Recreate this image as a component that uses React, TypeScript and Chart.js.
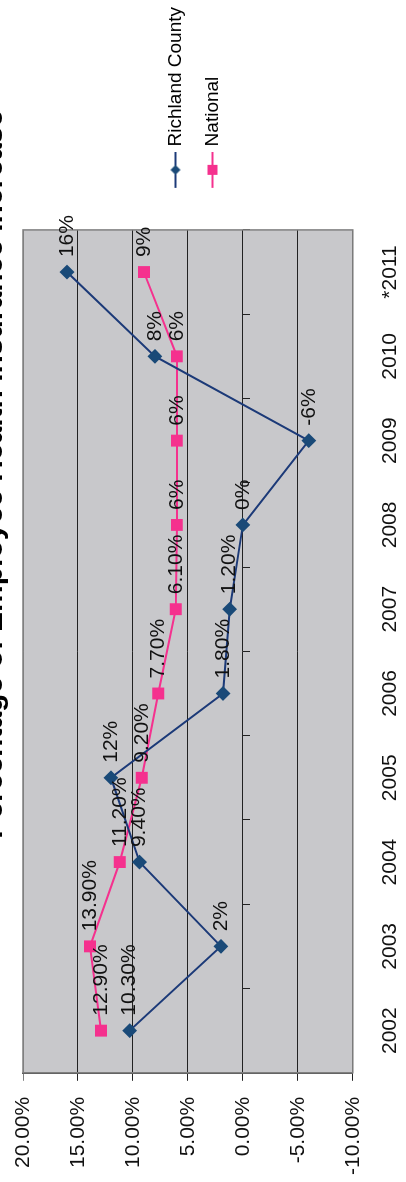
import { useEffect, useRef } from 'react';
import { Chart, registerables } from 'chart.js';

Chart.register(...registerables);

const TITLE = 'Percentage of Employee Health Insurance Increase';
const YEARS = ['2002', '2003', '2004', '2005', '2006', '2007', '2008', '2009', '2010', '*2011'];
const SERIES_NAMES = ['Richland County', 'National'];
const RICHLAND = [10.3, 2, 9.4, 12, 1.8, 1.2, 0, -6, 8, 16];
const NATIONAL = [12.9, 13.9, 11.2, 9.2, 7.7, 6.1, 6, 6, 6, 9];
const RICHLAND_LABELS = ['10.30%', '2%', '9.40%', '12%', '1.80%', '1.20%', '0%', '-6%', '8%', '16%'];
const NATIONAL_LABELS = ['12.90%', '13.90%', '11.20%', '9.20%', '7.70%', '6.10%', '6%', '6%', '6%', '9%'];
const Y_MIN = -10;
const Y_MAX = 20;
const Y_STEP = 5;

const CW = 1200; // landscape width (page height + overflow)
const CH = 406; // landscape height (page width)
const PAGE_H = 1182;
const FONT = '"Liberation Sans", Arial, sans-serif';
const NAVY = '#1c3a78';
const NAVY_PT = '#1a4a78';
const PINK = '#f5318e';

function makeIcon(color: string, ptColor: string, kind: 'diamond' | 'square') {
  const c = document.createElement('canvas');
  c.width = 64;
  c.height = 16;
  const g = c.getContext('2d')!;
  g.strokeStyle = color;
  g.lineWidth = 2;
  g.beginPath();
  g.moveTo(28, 8);
  g.lineTo(64, 8);
  g.stroke();
  g.fillStyle = ptColor;
  g.beginPath();
  if (kind === 'diamond') {
    g.moveTo(46, 3);
    g.lineTo(51, 8);
    g.lineTo(46, 13);
    g.lineTo(41, 8);
    g.closePath();
  } else {
    g.rect(41, 3, 10, 10);
  }
  g.fill();
  return c;
}

export default function App() {
  const ref = useRef<HTMLCanvasElement>(null);
  useEffect(() => {
    document.documentElement.style.overflow = 'hidden';
    document.body.style.overflow = 'hidden';
    const icons = [makeIcon(NAVY, NAVY_PT, 'diamond'), makeIcon(PINK, PINK, 'square')];
    const allLabels = [RICHLAND_LABELS, NATIONAL_LABELS];

    const plotBg = {
      id: 'plotBg',
      beforeDraw(chart: any) {
        const { ctx, chartArea: a } = chart;
        ctx.save();
        ctx.fillStyle = '#c8c8cb';
        ctx.fillRect(a.left, a.top, a.right - a.left, a.bottom - a.top);
        ctx.restore();
      },
      beforeDatasetsDraw(chart: any) {
        const { ctx, chartArea: a } = chart;
        ctx.save();
        ctx.strokeStyle = '#808080';
        ctx.lineWidth = 1.5;
        ctx.strokeRect(a.left, a.top, a.right - a.left, a.bottom - a.top);
        ctx.restore();
      },
    };

    const dataLabels = {
      id: 'dataLabels',
      afterDatasetsDraw(chart: any) {
        const { ctx } = chart;
        ctx.save();
        ctx.font = `21px ${FONT}`;
        ctx.fillStyle = '#111';
        ctx.textAlign = 'left';
        ctx.textBaseline = 'middle';
        chart.data.datasets.forEach((_d: any, i: number) => {
          const meta = chart.getDatasetMeta(i);
          meta.data.forEach((el: any, j: number) => {
            ctx.fillText(allLabels[i][j], el.x + 15, el.y);
          });
        });
        ctx.restore();
      },
    };

    const chart = new Chart(ref.current!, {
      type: 'line',
      data: {
        labels: YEARS,
        datasets: [
          {
            label: SERIES_NAMES[0],
            data: RICHLAND,
            borderColor: NAVY,
            backgroundColor: NAVY_PT,
            borderWidth: 2,
            pointStyle: 'rectRot',
            pointRadius: 6,
            pointBackgroundColor: NAVY_PT,
            pointBorderColor: NAVY_PT,
            tension: 0,
            xAxisID: 'x',
          },
          {
            label: SERIES_NAMES[1],
            data: NATIONAL,
            borderColor: PINK,
            backgroundColor: PINK,
            borderWidth: 2,
            pointStyle: 'rect',
            pointRadius: 7,
            pointBackgroundColor: PINK,
            pointBorderColor: PINK,
            tension: 0,
            xAxisID: 'x',
          },
        ],
      },
      options: {
        responsive: false,
        animation: false,
        devicePixelRatio: 1,
        layout: { padding: { left: -9, top: 23, right: 15, bottom: -22 } },
        plugins: {
          title: { display: false },
          tooltip: { enabled: false },
          legend: {
            position: 'right',
            align: 'start',
            title: { display: true, text: '', font: { size: 10 }, padding: { top: 113, bottom: 0 } },
            labels: {
              usePointStyle: true,
              pointStyleWidth: 56,
              padding: 18,
              color: '#000',
              font: { size: 19, family: FONT },
              generateLabels(ch: any) {
                const items = Chart.defaults.plugins.legend.labels.generateLabels(ch);
                items.forEach((it: any, i: number) => {
                  it.pointStyle = icons[i];
                });
                return items;
              },
            },
          },
        },
        scales: {
          x: {
            type: 'category',
            position: 'bottom',
            offset: true,
            grid: { display: false, drawTicks: false },
            border: { display: false },
            ticks: { color: '#111', padding: 25, font: { size: 21, family: FONT }, maxRotation: 0, autoSkip: false },
          },
          x0: {
            type: 'category',
            axis: 'x',
            position: { y: 0 },
            offset: true,
            grid: { display: true, drawOnChartArea: false, drawTicks: true, tickLength: 7, offset: true, color: '#222' },
            border: { display: false },
            ticks: { display: false },
          },
          y: {
            min: Y_MIN,
            max: Y_MAX,
            grid: {
              color: (c: any) => (c.tick && c.tick.value === Y_MAX ? '#808080' : '#222'),
              drawTicks: true,
              tickLength: 8,
            },
            border: { display: true, color: '#444', width: 1.5 },
            ticks: {
              stepSize: Y_STEP,
              color: '#111',
              padding: 16,
              font: { size: 21, family: FONT, lineHeight: 0.6 },
              callback: (v: any) => Number(v).toFixed(2) + '%',
            },
          },
        },
      },
      plugins: [plotBg, dataLabels],
    } as any);
    return () => chart.destroy();
  }, []);

  return (
    <div
      style={{
        position: 'fixed',
        left: 0,
        top: 0,
        width: CW,
        height: CH,
        transformOrigin: '0 0',
        transform: `translateY(${PAGE_H}px) rotate(-90deg)`,
        background: '#fff',
      }}
    >
      <div
        style={{
          position: 'absolute',
          right: CW - 1072,
          top: -23,
          font: `bold 30px ${FONT}`,
          lineHeight: '30px',
          whiteSpace: 'nowrap',
          color: '#000',
          zIndex: 1,
        }}
      >
        {TITLE}
      </div>
      <canvas ref={ref} width={CW} height={CH} style={{ display: 'block', width: CW, height: CH }} />
    </div>
  );
}
